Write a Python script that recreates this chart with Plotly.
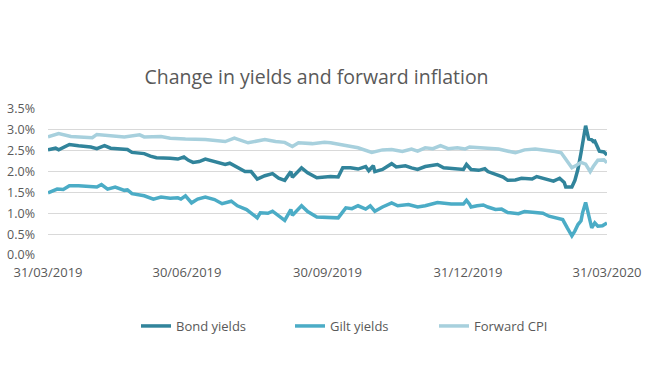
import plotly.graph_objects as go

title_text = "Change in yields and forward inflation"

bond_dates = [
    "2019-03-31", "2019-04-05", "2019-04-07", "2019-04-14", "2019-04-20", "2019-04-28",
    "2019-05-02", "2019-05-07", "2019-05-11", "2019-05-20", "2019-05-22", "2019-05-25",
    "2019-06-02", "2019-06-06", "2019-06-10", "2019-06-19", "2019-06-24", "2019-06-28",
    "2019-07-01", "2019-07-04", "2019-07-08", "2019-07-12", "2019-07-18", "2019-07-25",
    "2019-07-28", "2019-08-02", "2019-08-07", "2019-08-11", "2019-08-15", "2019-08-20",
    "2019-08-25", "2019-08-29", "2019-09-02", "2019-09-06", "2019-09-07", "2019-09-13",
    "2019-09-17", "2019-09-23", "2019-10-02", "2019-10-07", "2019-10-10", "2019-10-15",
    "2019-10-20", "2019-10-25", "2019-10-27", "2019-10-30", "2019-10-31", "2019-11-05",
    "2019-11-11", "2019-11-14", "2019-11-20", "2019-11-24", "2019-11-28", "2019-12-03",
    "2019-12-11", "2019-12-15", "2019-12-24", "2019-12-28", "2019-12-30", "2020-01-02",
    "2020-01-07", "2020-01-11", "2020-01-13", "2020-01-20", "2020-01-23", "2020-01-26",
    "2020-01-31", "2020-02-04", "2020-02-11", "2020-02-14", "2020-02-19", "2020-02-25",
    "2020-02-29", "2020-03-03", "2020-03-04", "2020-03-08", "2020-03-10", "2020-03-12",
    "2020-03-14", "2020-03-16", "2020-03-17", "2020-03-19", "2020-03-21", "2020-03-22",
    "2020-03-23", "2020-03-25", "2020-03-26", "2020-03-29", "2020-03-31",
]
bond_yields = [
    2.52, 2.56, 2.52, 2.65, 2.62, 2.59,
    2.55, 2.62, 2.56, 2.52, 2.53, 2.46,
    2.43, 2.37, 2.33, 2.32, 2.30, 2.35,
    2.27, 2.22, 2.24, 2.30, 2.24, 2.17,
    2.20, 2.09, 2.00, 2.00, 1.82, 1.90,
    1.95, 1.84, 1.79, 2.00, 1.86, 2.09,
    1.97, 1.85, 1.88, 1.87, 2.09, 2.09,
    2.06, 2.12, 2.02, 2.14, 2.00, 2.05,
    2.19, 2.11, 2.14, 2.09, 2.05, 2.12,
    2.17, 2.09, 2.07, 2.05, 2.17, 2.05,
    2.03, 2.07, 2.00, 1.90, 1.87, 1.79,
    1.80, 1.84, 1.82, 1.88, 1.82, 1.77,
    1.84, 1.74, 1.63, 1.63, 1.79, 2.06,
    2.45, 2.84, 3.10, 2.78, 2.76, 2.72,
    2.73, 2.57, 2.49, 2.47, 2.40,
]

gilt_dates = [
    "2019-03-31", "2019-04-06", "2019-04-10", "2019-04-14", "2019-04-20", "2019-04-28",
    "2019-05-02", "2019-05-05", "2019-05-09", "2019-05-14", "2019-05-20", "2019-05-22",
    "2019-05-25", "2019-06-02", "2019-06-08", "2019-06-13", "2019-06-19", "2019-06-24",
    "2019-06-26", "2019-06-29", "2019-07-01", "2019-07-03", "2019-07-07", "2019-07-12",
    "2019-07-18", "2019-07-23", "2019-07-29", "2019-08-02", "2019-08-08", "2019-08-15",
    "2019-08-17", "2019-08-22", "2019-08-25", "2019-08-29", "2019-09-02", "2019-09-06",
    "2019-09-07", "2019-09-13", "2019-09-17", "2019-09-23", "2019-10-02", "2019-10-07",
    "2019-10-12", "2019-10-16", "2019-10-20", "2019-10-25", "2019-10-28", "2019-10-31",
    "2019-11-05", "2019-11-11", "2019-11-15", "2019-11-22", "2019-11-28", "2019-12-03",
    "2019-12-11", "2019-12-20", "2019-12-28", "2019-12-30", "2020-01-01", "2020-01-02",
    "2020-01-06", "2020-01-10", "2020-01-13", "2020-01-18", "2020-01-22", "2020-01-26",
    "2020-02-02", "2020-02-06", "2020-02-13", "2020-02-18", "2020-02-22", "2020-02-28",
    "2020-03-02", "2020-03-05", "2020-03-08", "2020-03-10", "2020-03-12", "2020-03-14",
    "2020-03-15", "2020-03-17", "2020-03-19", "2020-03-21", "2020-03-23", "2020-03-25",
    "2020-03-28", "2020-03-31",
]
gilt_yields = [
    1.49, 1.58, 1.57, 1.66, 1.66, 1.63,
    1.63, 1.69, 1.58, 1.63, 1.55, 1.56,
    1.47, 1.42, 1.34, 1.39, 1.36, 1.37,
    1.34, 1.42, 1.33, 1.25, 1.34, 1.39,
    1.33, 1.23, 1.29, 1.18, 1.09, 0.89,
    1.01, 1.00, 1.05, 0.95, 0.83, 1.09,
    0.95, 1.18, 1.04, 0.91, 0.91, 0.89,
    1.13, 1.11, 1.18, 1.10, 1.18, 1.05,
    1.15, 1.25, 1.18, 1.21, 1.15, 1.18,
    1.26, 1.22, 1.22, 1.31, 1.22, 1.15,
    1.18, 1.20, 1.15, 1.09, 1.10, 1.02,
    0.99, 1.04, 1.02, 1.00, 0.93, 0.89,
    0.85, 0.65, 0.46, 0.58, 0.73, 0.82,
    1.01, 1.26, 0.93, 0.65, 0.77, 0.69,
    0.70, 0.77,
]

cpi_dates = [
    "2019-03-31", "2019-04-07", "2019-04-15", "2019-04-26", "2019-04-29", "2019-05-02",
    "2019-05-11", "2019-05-20", "2019-05-30", "2019-06-02", "2019-06-13", "2019-06-19",
    "2019-06-29", "2019-07-12", "2019-07-25", "2019-07-31", "2019-08-09", "2019-08-20",
    "2019-08-27", "2019-09-02", "2019-09-07", "2019-09-11", "2019-09-20", "2019-09-28",
    "2019-10-02", "2019-10-05", "2019-10-12", "2019-10-20", "2019-10-29", "2019-11-05",
    "2019-11-11", "2019-11-18", "2019-11-24", "2019-11-28", "2019-12-03", "2019-12-08",
    "2019-12-13", "2019-12-18", "2019-12-24", "2019-12-29", "2020-01-01", "2020-01-11",
    "2020-01-20", "2020-01-31", "2020-02-06", "2020-02-13", "2020-02-19", "2020-02-26",
    "2020-03-01", "2020-03-04", "2020-03-08", "2020-03-11", "2020-03-14", "2020-03-17",
    "2020-03-20", "2020-03-22", "2020-03-25", "2020-03-29", "2020-03-31",
]
forward_cpi = [
    2.83, 2.91, 2.84, 2.83, 2.81, 2.89,
    2.86, 2.83, 2.88, 2.83, 2.84, 2.80,
    2.78, 2.77, 2.72, 2.80, 2.69, 2.77,
    2.72, 2.70, 2.60, 2.69, 2.67, 2.70,
    2.69, 2.67, 2.62, 2.57, 2.46, 2.52,
    2.53, 2.48, 2.54, 2.49, 2.57, 2.55,
    2.62, 2.55, 2.57, 2.54, 2.59, 2.57,
    2.54, 2.45, 2.52, 2.54, 2.52, 2.48,
    2.45, 2.29, 2.09, 2.15, 2.22, 2.18,
    2.00, 2.12, 2.27, 2.28, 2.21,
]

x_tick_dates = ["2019-03-31", "2019-06-30", "2019-09-30", "2019-12-31", "2020-03-31"]
x_tick_labels = ["31/03/2019", "30/06/2019", "30/09/2019", "31/12/2019", "31/03/2020"]
y_tick_values = [0.0, 0.5, 1.0, 1.5, 2.0, 2.5, 3.0, 3.5]
y_tick_labels = ["0.0%", "0.5%", "1.0%", "1.5%", "2.0%", "2.5%", "3.0%", "3.5%"]

FONT = "Open Sans, DejaVu Sans, sans-serif"
GREY = "#595959"
W, H = 645, 380

fig = go.Figure()
fig.add_trace(go.Scatter(x=bond_dates, y=bond_yields, mode="lines", name="Bond yields",
                         legend="legend", line=dict(color="#31849B", width=3.5)))
fig.add_trace(go.Scatter(x=gilt_dates, y=gilt_yields, mode="lines", name="Gilt yields",
                         legend="legend2", line=dict(color="#4BACC6", width=3.5)))
fig.add_trace(go.Scatter(x=cpi_dates, y=forward_cpi, mode="lines", name="Forward CPI",
                         legend="legend3", line=dict(color="#A7D0DD", width=3.5)))

leg_common = dict(orientation="h", xanchor="left", yanchor="middle", xref="container",
                  yref="container", y=1 - 326 / H, font=dict(size=13, color=GREY),
                  itemwidth=30, bgcolor="rgba(0,0,0,0)")

fig.update_layout(
    width=W, height=H,
    margin=dict(l=48, r=38, t=109, b=125),
    paper_bgcolor="white", plot_bgcolor="white",
    font=dict(family=FONT, color=GREY, size=13),
    title=dict(text=title_text, x=316.5 / W, xanchor="center", y=1 - 77.5 / H, yanchor="middle",
               yref="container", xref="container",
               font=dict(size=19.5, color=GREY, family=FONT)),
    showlegend=True,
    legend=dict(x=136 / W, **leg_common),
    legend2=dict(x=290 / W, **leg_common),
    legend3=dict(x=434 / W, **leg_common),
    hovermode=False,
)
fig.update_xaxes(
    type="date", range=["2019-03-31", "2020-03-31"], automargin=False,
    tickmode="array", tickvals=x_tick_dates, ticktext=x_tick_labels,
    showgrid=False, showline=False, zeroline=False, ticks="",
    ticklabelstandoff=8, tickfont=dict(size=13, color=GREY),
)
fig.update_yaxes(
    range=[0, 3.5], automargin=False, tickmode="array", tickvals=y_tick_values,
    ticktext=y_tick_labels,
    showgrid=True, gridcolor="#D9D9D9", gridwidth=1, zeroline=False, showline=False,
    ticks="", ticklabelstandoff=12, tickfont=dict(size=12.5, color=GREY),
)

fig.write_html("out.html", config={"displayModeBar": False},
               post_script="document.body.style.margin='0';")
